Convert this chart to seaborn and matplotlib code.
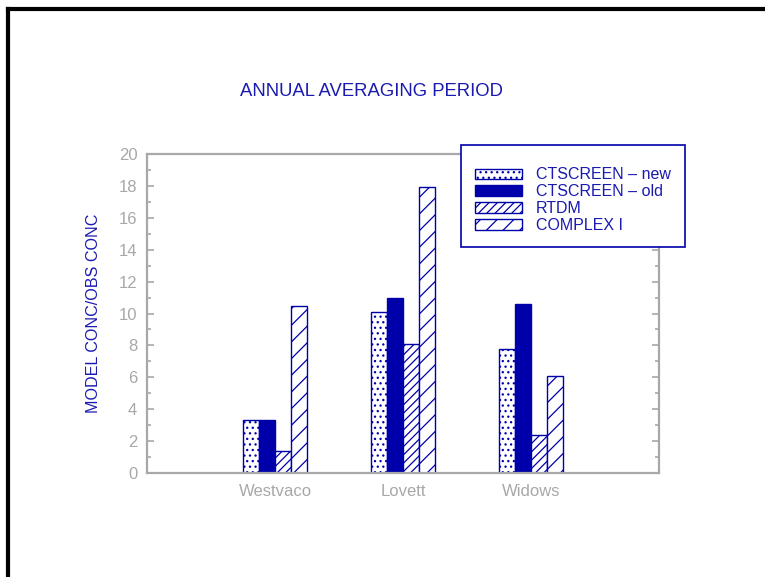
import matplotlib
matplotlib.use("Agg")
import matplotlib.pyplot as plt
import seaborn as sns
import pandas as pd
from matplotlib.patches import Patch
from matplotlib.lines import Line2D

# Sites and model/observed concentration ratios
sites = ["Westvaco", "Lovett", "Widows"]
models = ["CTSCREEN \u2013 new", "CTSCREEN \u2013 old", "RTDM", "COMPLEX I"]
ctscreen_new = [3.3, 10.1, 7.8]
ctscreen_old = [3.3, 11.0, 10.6]
rtdm = [1.4, 8.1, 2.4]
complex_i = [10.5, 17.9, 6.1]
y_ticks = [0, 2, 4, 6, 8, 10, 12, 14, 16, 18, 20]

BLUE = "#0000AA"
TEXT_BLUE = "#1A1AB0"
GREY = "#A8A8A8"

sns.set_style("white")
plt.rcParams["font.family"] = ["Liberation Sans", "DejaVu Sans"]
plt.rcParams["hatch.linewidth"] = 0.9

df = pd.DataFrame({
    "site": sites * 4,
    "model": [m for m in models for _ in sites],
    "ratio": ctscreen_new + ctscreen_old + rtdm + complex_i,
})

fig = plt.figure(figsize=(7.65, 5.77), dpi=100)
ax = fig.add_axes([147 / 765, 1 - 473 / 577, 512 / 765, 319 / 577])

sns.barplot(data=df, x="site", y="ratio", hue="model", order=sites,
            hue_order=models, width=0.5, gap=0, ax=ax, legend=False,
            errorbar=None)

styles = [
    dict(facecolor="white", hatch="..."),
    dict(facecolor=BLUE, hatch=None),
    dict(facecolor="white", hatch="////"),
    dict(facecolor="white", hatch="//"),
]
for container, st in zip(ax.containers, styles):
    for bar in container:
        bar.set_facecolor(st["facecolor"])
        bar.set_edgecolor(BLUE)
        bar.set_linewidth(1.0)
        if st["hatch"]:
            bar.set_hatch(st["hatch"])

ax.set_xlim(-1, 3)
ax.set_ylim(0, 20)
ax.set_yticks(y_ticks)
ax.set_yticks(range(1, 20, 2), minor=True)
ax.set_xlabel("")
ax.set_ylabel("MODEL CONC/OBS CONC", color=TEXT_BLUE, fontsize=11.6, labelpad=13)

for s in ax.spines.values():
    s.set_color(GREY)
    s.set_linewidth(1.6)
    s.set_visible(True)

ax.tick_params(axis="y", which="both", direction="in", left=True, right=True,
               color=GREY, width=1.2, labelcolor=GREY, labelsize=12, pad=7)
ax.tick_params(axis="y", which="major", length=5)
ax.tick_params(axis="y", which="minor", length=3)
ax.tick_params(axis="x", length=0, labelcolor=GREY, labelsize=12, pad=8)

fig.text(372 / 765, 1 - 91 / 577, "ANNUAL AVERAGING PERIOD", color=TEXT_BLUE,
         fontsize=13.3, ha="center", va="center")

handles = [Patch(label=m, **{k: v for k, v in st.items()}, edgecolor=BLUE,
                 linewidth=1.0) for m, st in zip(models, styles)]
leg = fig.legend(handles=handles, loc="upper left",
                 bbox_to_anchor=(461 / 765, 1 - 145 / 577),
                 fontsize=11.5, handlelength=3.0, handleheight=0.65,
                 handletextpad=0.85, labelspacing=0.12, borderpad=0.85,
                 borderaxespad=0, frameon=True, fancybox=False,
                 title=" ", title_fontsize=6)
frame = leg.get_frame()
frame.set_edgecolor(BLUE)
frame.set_linewidth(1.2)
frame.set_facecolor("white")
frame.set_alpha(1)
for t in leg.get_texts():
    t.set_color(TEXT_BLUE)

# Page border along the top and left edges
fig.add_artist(Line2D([8 / 765, 8 / 765], [0, 1 - 9 / 577], color="black",
                      linewidth=3, transform=fig.transFigure,
                      solid_capstyle="projecting"))
fig.add_artist(Line2D([8 / 765, 1], [1 - 9 / 577, 1 - 9 / 577], color="black",
                      linewidth=3, transform=fig.transFigure,
                      solid_capstyle="projecting"))

fig.savefig("out.png", dpi=100, facecolor="white")
